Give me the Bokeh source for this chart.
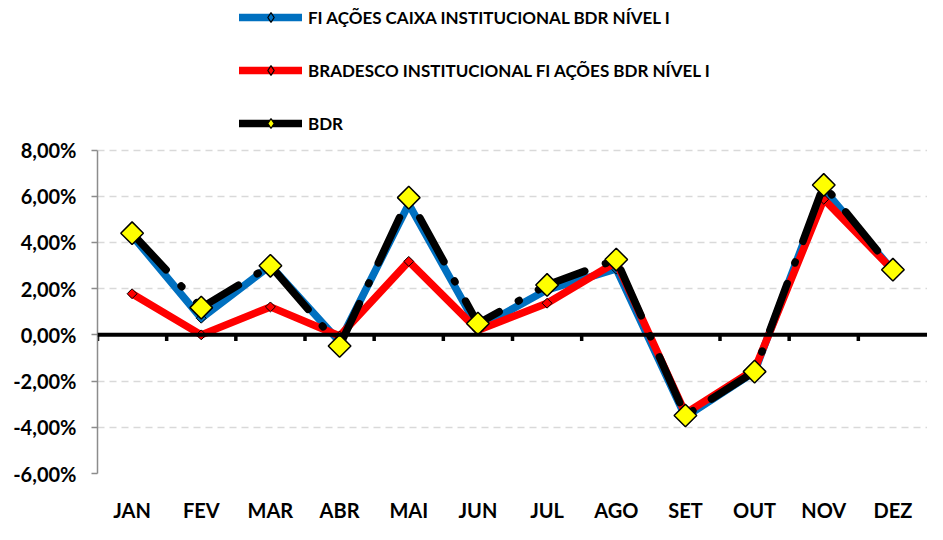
import math
from bokeh.plotting import figure
from bokeh.models import (FactorRange, Range1d, FixedTicker, CustomJSTickFormatter,
                          Span, Legend, LegendItem)
from bokeh.embed import file_html
from bokeh.resources import INLINE

months = ["JAN", "FEV", "MAR", "ABR", "MAI", "JUN", "JUL", "AGO", "SET", "OUT", "NOV", "DEZ"]
caixa = [4.30, 0.72, 3.00, -0.30, 5.66, 0.30, 1.95, 2.85, -3.55, -1.60, 6.30, 2.78]
bradesco = [1.78, 0.00, 1.21, -0.05, 3.18, 0.20, 1.37, 3.15, -3.40, -1.50, 5.87, 2.80]
bdr = [4.40, 1.18, 2.99, -0.48, 5.94, 0.49, 2.16, 3.26, -3.49, -1.59, 6.49, 2.82]
y_ticks = [-6, -4, -2, 0, 2, 4, 6, 8]
names = ["FI AÇÕES CAIXA INSTITUCIONAL BDR NÍVEL I",
         "BRADESCO INSTITUCIONAL FI AÇÕES BDR NÍVEL I",
         "BDR"]

FONT = "Lato"
W, H = 927, 524
LEFT = 97
BOTTOM = 40
PLOT_TOP_PX = 153          # screen y of the top gridline
FRAME_H = H - BOTTOM       # frame spans from the top of the figure
ymin, ymax = min(y_ticks), max(y_ticks)
px_per_unit = (FRAME_H - PLOT_TOP_PX) / (ymax - ymin)
y_top = ymax + PLOT_TOP_PX / px_per_unit   # extra headroom for the legend

p = figure(width=W, height=H, output_backend="svg", toolbar_location=None,
           x_range=FactorRange(factors=months), y_range=Range1d(ymin, y_top),
           min_border_left=LEFT, min_border_right=0, min_border_top=0, min_border_bottom=BOTTOM)
p.outline_line_color = None
p.background_fill_color = "white"

# grid
p.xgrid.grid_line_color = None
p.ygrid.grid_line_color = "#D9D9D9"
p.ygrid.grid_line_width = 1.5
p.ygrid.grid_line_dash = "7 5"
p.ygrid.ticker = FixedTicker(ticks=y_ticks)

# y axis
p.yaxis.ticker = FixedTicker(ticks=y_ticks)
p.yaxis.bounds = (ymin, ymax)
p.yaxis.formatter = CustomJSTickFormatter(code="return tick.toFixed(2).replace('.', ',') + '%';")
p.yaxis.axis_line_color = "#8C8C8C"
p.yaxis.axis_line_width = 1.5
p.yaxis.major_tick_line_color = "#8C8C8C"
p.yaxis.major_tick_line_width = 1.5
p.yaxis.major_tick_out = 6
p.yaxis.major_tick_in = 0
p.yaxis.minor_tick_line_color = None
p.yaxis.major_label_text_font = FONT
p.yaxis.major_label_text_font_style = "bold"
p.yaxis.major_label_text_font_size = "20px"
p.yaxis.major_label_text_color = "black"
p.yaxis.major_label_standoff = 15

# x axis (labels only)
p.xaxis.axis_line_color = None
p.xaxis.major_tick_line_color = None
p.xaxis.minor_tick_line_color = None
p.xaxis.major_label_text_font = FONT
p.xaxis.major_label_text_font_style = "bold"
p.xaxis.major_label_text_font_size = "20px"
p.xaxis.major_label_text_color = "black"
p.xaxis.major_label_standoff = 18

# zero line with category ticks
p.add_layout(Span(location=0, dimension="width", line_color="black", line_width=4))
p.segment(x0=[(m, -0.5) for m in months], y0=[0] * len(months),
          x1=[(m, -0.5) for m in months], y1=[-0.27] * len(months),
          line_color="black", line_width=3.5)

# series
blue = "#0070C0"
red = "#FF0000"
yellow = "#FFFF00"
LW = 7.5
l1 = p.line(months, caixa, line_color=blue, line_width=LW, line_join="round", line_cap="round")
m1 = p.scatter(months, caixa, marker="square", angle=math.pi / 4, size=7,
               fill_color=blue, line_color="black", line_width=1)
l2 = p.line(months, bradesco, line_color=red, line_width=LW, line_join="round", line_cap="round")
m2 = p.scatter(months, bradesco, marker="square", angle=math.pi / 4, size=7,
               fill_color=red, line_color="black", line_width=1)
l3 = p.line(months, bdr, line_color="black", line_width=LW, line_join="round", line_cap="round",
            line_dash="50 22 1 22")
m3 = p.scatter(months, bdr, marker="square", angle=math.pi / 4, size=16,
               fill_color=yellow, line_color="black", line_width=1.5)

# legend-only renderers (hidden): solid line + diamond marker
leg = []
for vals, col in ((caixa, blue), (bradesco, red), (bdr, "black")):
    ln = p.line(months, vals, line_color=col, line_width=LW, line_cap="round", visible=False)
    mk = p.scatter(months, vals, marker="diamond", size=9,
                   fill_color=(yellow if col == "black" else col),
                   line_color="black", line_width=1.2, visible=False)
    leg.append([ln, mk])

legend = Legend(items=[LegendItem(label=names[i], renderers=leg[i]) for i in range(3)],
                orientation="vertical")
RH = 24
legend.padding = 0
legend.margin = 0
legend.spacing = 29
legend.glyph_width = 63
legend.glyph_height = RH
legend.label_height = RH
legend.label_standoff = 6
LEG_H = 3 * RH + 2 * 29
legend.location = (142, FRAME_H - 16 - LEG_H)
legend.label_text_font = FONT
legend.label_text_font_style = "bold"
legend.label_text_font_size = "17px"
legend.label_text_color = "black"
legend.border_line_alpha = 0
legend.background_fill_alpha = 0
legend.click_policy = "none"
p.add_layout(legend, "center")

open("out.html", "w").write(file_html(p, INLINE))
